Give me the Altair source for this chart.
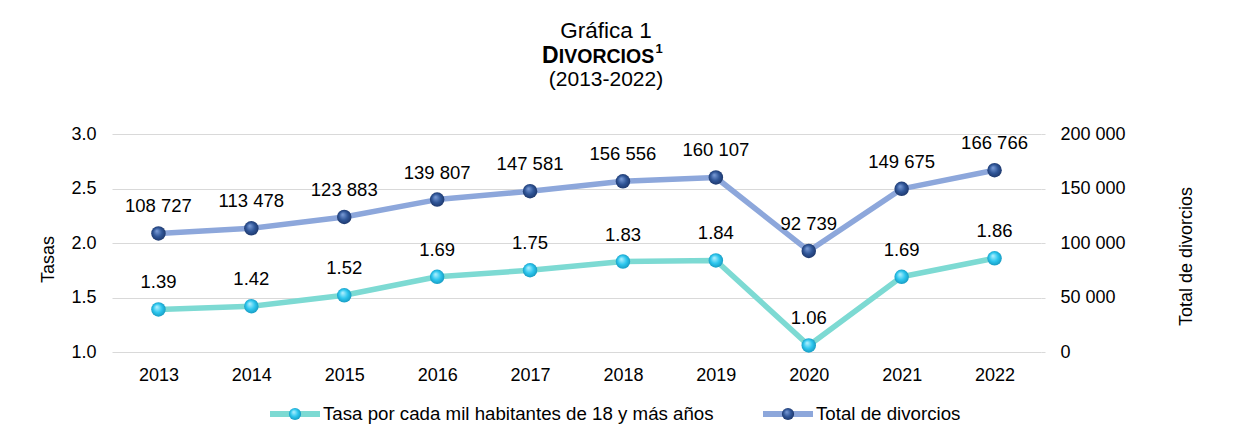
import altair as alt
import pandas as pd

FONT = "Liberation Sans"

years = ["2013", "2014", "2015", "2016", "2017", "2018", "2019", "2020", "2021", "2022"]
rate = [1.39, 1.42, 1.52, 1.69, 1.75, 1.83, 1.84, 1.06, 1.69, 1.86]
total = [108727, 113478, 123883, 139807, 147581, 156556, 160107, 92739, 149675, 166766]

rate_ticks = [1.0, 1.5, 2.0, 2.5, 3.0]
total_ticks = [0, 50000, 100000, 150000, 200000]

title_line1 = "Gráfica 1"
title_cap = "D"
title_rest = "IVORCIOS"
title_sup = "1"
title_line3 = "(2013-2022)"
legend_rate = "Tasa por cada mil habitantes de 18 y más años"
legend_total = "Total de divorcios"
ytitle_left = "Tasas"
ytitle_right = "Total de divorcios"

TEAL = "#7DDAD3"
BLUE = "#8DA7DB"
GRID = "#D9D9D9"

df = pd.DataFrame({
    "year": years,
    "rate": rate,
    "total": total,
    "rate_label": [f"{v:.2f}" for v in rate],
    "total_label": [f"{v:,}".replace(",", " ") for v in total],
})

teal_grad = alt.RadialGradient(
    gradient="radial",
    stops=[alt.GradientStop(color="#B8F2FF", offset=0),
           alt.GradientStop(color="#2CC6EE", offset=0.55),
           alt.GradientStop(color="#1595BB", offset=1)],
    x1=0.38, y1=0.32, r1=0, x2=0.5, y2=0.5, r2=0.55)
blue_grad = alt.RadialGradient(
    gradient="radial",
    stops=[alt.GradientStop(color="#7E9FDA", offset=0),
           alt.GradientStop(color="#2F5597", offset=0.55),
           alt.GradientStop(color="#1C3466", offset=1)],
    x1=0.38, y1=0.32, r1=0, x2=0.5, y2=0.5, r2=0.55)

x_enc = alt.X("year:O", sort=years,
              scale=alt.Scale(type="point", padding=0.5),
              axis=alt.Axis(title=None, labelAngle=0, domain=False, ticks=False,
                            tickSize=0, labelPadding=14, labelFontSize=18,
                            labelColor="#000000", labelFont=FONT, grid=False))

y_rate = alt.Y("rate:Q",
               scale=alt.Scale(domain=[1, 3], nice=False, zero=False),
               axis=alt.Axis(orient="left", values=rate_ticks, format=".1f",
                             title=ytitle_left, grid=True, gridColor=GRID, gridWidth=1,
                             domain=False, ticks=False, tickSize=0, labelPadding=16,
                             labelFontSize=18, labelFont=FONT, labelColor="#000000",
                             titleFont=FONT, titleFontSize=18, titleFontWeight="normal",
                             titleColor="#000000", titleX=-64, titleY=125,
                             titleAngle=270, titleBaseline="middle", titleAlign="center"))

y_total = alt.Y("total:Q",
                scale=alt.Scale(domain=[0, 200000], nice=False),
                axis=alt.Axis(orient="right", values=total_ticks,
                              labelExpr="datum.value >= 1000 ? floor(datum.value/1000) + ' 000' : datum.label",
                              title=ytitle_right, grid=False, domain=False, ticks=True,
                              tickSize=4, tickColor=GRID, labelPadding=15,
                              labelFontSize=18, labelFont=FONT, labelColor="#000000",
                              titleFont=FONT, titleFontSize=18, titleFontWeight="normal",
                              titleColor="#000000", titleX=145, titleY=122,
                              titleAngle=270, titleBaseline="middle", titleAlign="center"))

base = alt.Chart(df)

rate_layer = alt.layer(
    base.mark_line(color=TEAL, strokeWidth=5.5, strokeJoin="round", strokeCap="round").encode(x=x_enc, y=y_rate),
    base.mark_circle(size=210, fill=teal_grad, opacity=1).encode(x=x_enc, y=y_rate),
    base.mark_text(fontSize=18.5, font=FONT, color="#000000", dy=-27, baseline="middle").encode(
        x=x_enc, y=y_rate, text="rate_label:N"),
)

total_layer = alt.layer(
    base.mark_line(color=BLUE, strokeWidth=5.5, strokeJoin="round", strokeCap="round").encode(x=x_enc, y=y_total),
    base.mark_circle(size=210, fill=blue_grad, opacity=1).encode(x=x_enc, y=y_total),
    base.mark_text(fontSize=18.5, font=FONT, color="#000000", dy=-27, baseline="middle").encode(
        x=x_enc, y=y_total, text="total_label:N"),
)

one = alt.Chart(pd.DataFrame({"k": [0]}))

def txt(s, xv, yv, size, weight="normal", align="center"):
    return one.mark_text(font=FONT, fontSize=size, fontWeight=weight, align=align,
                         baseline="alphabetic", color="#000000").encode(
        x=alt.value(xv), y=alt.value(yv), text=alt.value(s))

titles = [
    txt(title_line1, 494, -96, 22.5),
    txt(title_cap, 430, -71, 23, "bold", "left"),
    txt(title_rest, 446.8, -71, 19.5, "bold", "left"),
    txt(title_sup, 543.5, -81, 13, "bold", "left"),
    txt(title_line3, 494, -48, 21),
]

def legend_item(x0, color, grad, label):
    return [
        one.mark_rule(color=color, strokeWidth=6).encode(
            x=alt.value(x0), x2=alt.value(x0 + 50), y=alt.value(280)),
        one.mark_circle(size=150, fill=grad, opacity=1).encode(
            x=alt.value(x0 + 25), y=alt.value(280)),
        one.mark_text(font=FONT, fontSize=18.7, align="left", baseline="middle",
                      color="#000000").encode(
            x=alt.value(x0 + 53), y=alt.value(280), text=alt.value(label)),
    ]

legend = legend_item(158, TEAL, teal_grad, legend_rate) + legend_item(651, BLUE, blue_grad, legend_total)

chart = alt.layer(rate_layer, total_layer, *titles, *legend).resolve_scale(
    y="independent"
).properties(
    width=929, height=218,
    autosize=alt.AutoSizeParams(type="none"),
    padding={"left": 112, "top": 134, "right": 219, "bottom": 92},
    background="white",
).configure_view(stroke=None)

chart.save("out.html", embed_options={"renderer": "svg", "actions": False})
